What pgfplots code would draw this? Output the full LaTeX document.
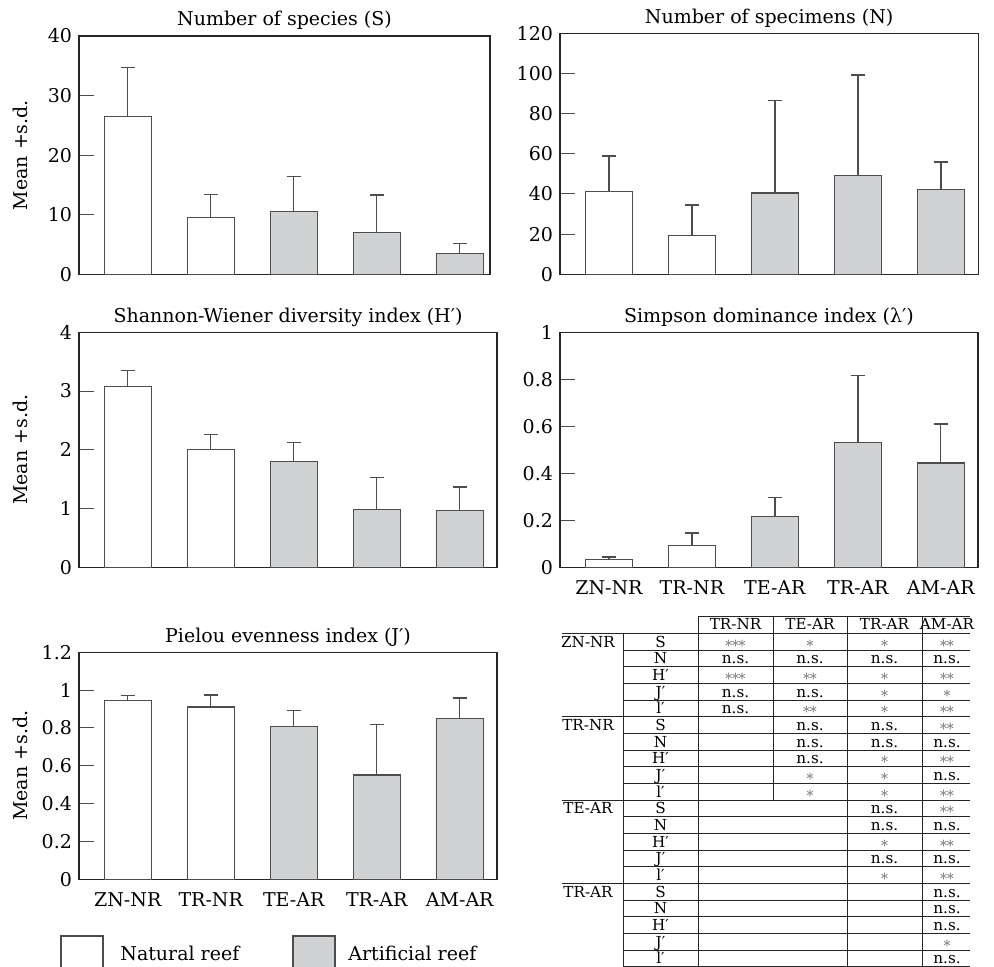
\documentclass[border=0pt]{standalone}
\usepackage{fontspec}
\setmainfont{DejaVu Serif}
\usepackage{pgfplots}
\pgfplotsset{compat=1.18}
\definecolor{barfill}{HTML}{D1D2D4}
\definecolor{edge}{HTML}{4D4D4D}
\newcommand{\lf}{\fontsize{9.5}{11}\selectfont}
\newcommand{\tf}{\fontsize{7.6}{8}\selectfont}
\newcommand{\sgA}{\textcolor{black!60}{$\ast$}}
\newcommand{\sgB}{\textcolor{black!60}{${\ast}\mkern-2mu{\ast}$}}
\newcommand{\sgC}{\textcolor{black!60}{${\ast}\mkern-2mu{\ast}\mkern-2mu{\ast}$}}
\pgfplotsset{
  panel/.style={
    scale only axis, anchor=south west, clip=false,
    ybar, bar width=0.566,
    axis line style={draw=black!85, line width=0.6pt},
    tick align=inside, ytick pos=left, major tick length=7.5pt,
    ytick style={draw=black!70, line width=0.5pt},
    xtick={0,1,2,3,4}, xticklabels={}, major x tick style={draw=none},
    ymin=0,
    tick label style={font=\lf},
    /pgf/number format/assume math mode=true,
    title style={font=\lf, yshift=-6.5pt},
    ylabel style={font=\lf, at={([xshift=-25.5pt]axis description cs:0,0.5)}, anchor=base, rotate=0},
    xticklabel style={yshift=-3pt},
    error bars/y dir=plus, error bars/y explicit,
    error bars/error bar style={draw=edge, line width=0.7pt},
    error bars/error mark options={rotate=90, draw=edge, line width=0.7pt, mark size=3.5pt},
  },
  nat/.style={draw=edge, fill=white, line width=0.7pt, bar shift=0pt},
  art/.style={draw=edge, fill=barfill, line width=0.7pt, bar shift=0pt},
}
\begin{document}
\begin{tikzpicture}
\useasboundingbox (0,0) rectangle (497pt,483.5pt);
% Panel 1: S
\begin{axis}[panel, at={(39.5pt,346.35pt)}, width=205.5pt, height=119.15pt,
  xmin=-0.587, xmax=4.365, ymax=40, ytick={0,10,20,30,40},
  title={Number of species (S)}, ylabel={Mean +s.d.}]
\addplot[nat] coordinates {(0,26.46) +- (0,8.28) (1,9.51) +- (0,3.92)};
\addplot[art] coordinates {(2,10.52) +- (0,5.93) (3,7.05) +- (0,6.26) (4,3.47) +- (0,1.68)};
\end{axis}
% Panel 2: N
\begin{axis}[panel, at={(280pt,346.35pt)}, width=209.15pt, height=120.5pt,
  xmin=-0.59, xmax=4.449, ymax=120, ytick={0,20,40,60,80,100,120},
  title={Number of specimens (N)}]
\addplot[nat] coordinates {(0,41.3) +- (0,17.5) (1,19.25) +- (0,15.25)};
\addplot[art] coordinates {(2,40.5) +- (0,46.0) (3,49.3) +- (0,50.0) (4,42.3) +- (0,13.6)};
\end{axis}
% Panel 3: H'
\begin{axis}[panel, at={(39.5pt,199.85pt)}, width=209pt, height=117.5pt,
  xmin=-0.587, xmax=4.449, ymax=4, ytick={0,1,2,3,4},
  title={Shannon-Wiener diversity index (H′)}, ylabel={Mean +s.d.}]
\addplot[nat] coordinates {(0,3.075) +- (0,0.278) (1,2.009) +- (0,0.249)};
\addplot[art] coordinates {(2,1.799) +- (0,0.323) (3,0.982) +- (0,0.55) (4,0.970) +- (0,0.397)};
\end{axis}
% Panel 4: lambda'
\begin{axis}[panel, at={(280pt,199.85pt)}, width=209pt, height=117.5pt,
  xmin=-0.59, xmax=4.449, ymax=1, ytick={0,0.2,0.4,0.6,0.8,1},
  xticklabels={ZN-NR,TR-NR,TE-AR,TR-AR,AM-AR},
  title={Simpson dominance index (λ′)}]
\addplot[nat] coordinates {(0,0.033) +- (0,0.010) (1,0.094) +- (0,0.052)};
\addplot[art] coordinates {(2,0.217) +- (0,0.081) (3,0.530) +- (0,0.287) (4,0.443) +- (0,0.167)};
\end{axis}
% Panel 5: J'
\begin{axis}[panel, at={(39.5pt,43.85pt)}, width=209pt, height=113.5pt,
  xmin=-0.587, xmax=4.449, ymax=1.2, ytick={0,0.2,0.4,0.6,0.8,1,1.2},
  xticklabels={ZN-NR,TR-NR,TE-AR,TR-AR,AM-AR},
  title={Pielou evenness index (J′)}, ylabel={Mean +s.d.}]
\addplot[nat] coordinates {(0,0.944) +- (0,0.027) (1,0.911) +- (0,0.063)};
\addplot[art] coordinates {(2,0.807) +- (0,0.086) (3,0.552) +- (0,0.267) (4,0.849) +- (0,0.110)};
\end{axis}
% Legend
\draw[edge, line width=0.7pt] (30.5pt,-5pt) rectangle (51.5pt,15.5pt);
\node[anchor=west, font=\lf, inner sep=0pt] at (60pt,7pt) {Natural reef};
\draw[edge, fill=barfill, line width=0.7pt] (146.5pt,-5pt) rectangle (167.5pt,15.5pt);
\node[anchor=west, font=\lf, inner sep=0pt] at (174pt,7pt) {Artificial reef};
% Table
\begin{scope}[x=1pt,y=1pt]
\tikzset{tl/.style={draw=black!85, line width=0.5pt}}
\draw[tl] (349,175.15) -- (485,175.15);
\draw[tl] (281,166.82) -- (485,166.82);
\foreach \r in {1,...,20}{
  \pgfmathsetmacro{\yb}{175.15-8.3333*(\r+1)}
  \pgfmathtruncatemacro{\m}{mod(\r,5)}
  \ifnum\m=0 \ifnum\r<20
    \draw[tl] (281,\yb) -- (485,\yb);
  \else
    \draw[tl] (311.5,\yb) -- (485,\yb);
  \fi\else
    \draw[tl] (311.5,\yb) -- (485,\yb);
  \fi
}
\draw[tl] (311.5,166.82) -- (311.5,0.15);
\draw[tl] (349,175.15) -- (349,0.15);
\draw[tl] (386.5,175.15) -- (386.5,83.48);
\draw[tl] (423.5,175.15) -- (423.5,0.15);
\draw[tl] (461,175.15) -- (461,0.15);
% header
\foreach \x/\t in {367.75/TR-NR,405/TE-AR,442.25/TR-AR,473.5/AM-AR}
  \node[anchor=base, font=\tf, inner sep=0pt] at (\x,168.5) {\t};
% group labels
\foreach \g/\t in {0/ZN-NR,1/TR-NR,2/TE-AR,3/TR-AR}{
  \pgfmathsetmacro{\yb}{175.15-8.3333*(5*\g+2)+1.5}
  \node[anchor=base, font=\tf, inner sep=0pt] at (294,\yb) {\t};
}
% variable labels
\foreach \g in {0,1,2,3}{
  \foreach \k/\t in {0/S,1/N,2/H′,3/J′,4/l′}{
    \pgfmathsetmacro{\yb}{175.15-8.3333*(5*\g+\k+2)+1.5}
    \node[anchor=base, font=\tf, inner sep=0pt] at (330.25,\yb) {\t};
  }
}
% cells: row index r, column x, text
\foreach \r/\x/\t in {
  1/367.75/\sgC, 1/405/\sgA, 1/442.25/\sgA, 1/473.5/\sgB,
  2/367.75/n.s., 2/405/n.s., 2/442.25/n.s., 2/473.5/n.s.,
  3/367.75/\sgC, 3/405/\sgB, 3/442.25/\sgA, 3/473.5/\sgB,
  4/367.75/n.s., 4/405/n.s., 4/442.25/\sgA, 4/473.5/\sgA,
  5/367.75/n.s., 5/405/\sgB, 5/442.25/\sgA, 5/473.5/\sgB,
  6/405/n.s., 6/442.25/n.s., 6/473.5/\sgB,
  7/405/n.s., 7/442.25/n.s., 7/473.5/n.s.,
  8/405/n.s., 8/442.25/\sgA, 8/473.5/\sgB,
  9/405/\sgA, 9/442.25/\sgA, 9/473.5/n.s.,
  10/405/\sgA, 10/442.25/\sgA, 10/473.5/\sgB,
  11/442.25/n.s., 11/473.5/\sgB,
  12/442.25/n.s., 12/473.5/n.s.,
  13/442.25/\sgA, 13/473.5/\sgB,
  14/442.25/n.s., 14/473.5/n.s.,
  15/442.25/\sgA, 15/473.5/\sgB,
  16/473.5/n.s., 17/473.5/n.s., 18/473.5/n.s., 19/473.5/\sgA, 20/473.5/n.s.}{
  \pgfmathsetmacro{\yb}{175.15-8.3333*(\r+1)+1.5}
  \node[anchor=base, font=\tf, inner sep=0pt] at (\x,\yb) {\t};
}
\end{scope}
\end{tikzpicture}
\end{document}
